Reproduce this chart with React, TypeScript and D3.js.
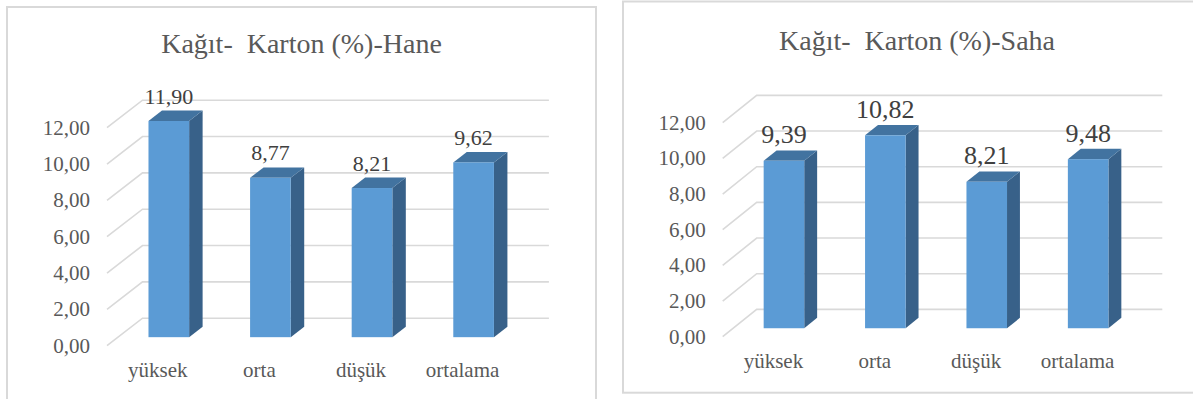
import React from "react";
import * as d3 from "d3";

// Categories and series values
const categories = ["yüksek", "orta", "düşük", "ortalama"];
const haneValues = [11.9, 8.77, 8.21, 9.62];
const sahaValues = [9.39, 10.82, 8.21, 9.48];
const yTicks = [0, 2, 4, 6, 8, 10, 12];
const titles = ["Kağıt-  Karton (%)-Hane", "Kağıt-  Karton (%)-Saha"];

const FONT = "Liberation Serif, Tinos, Times New Roman, Times, DejaVu Serif, serif";
const FRONT = "#5b9bd5";
const TOP = "#4273a0";
const SIDE = "#386189";
const GRID = "#d9d9d9";
const TEXT = "#595959";
const LABEL = "#404040";

const fmt = (v: number) => d3.format(".2f")(v).replace(".", ",");

interface PanelLayout {
  frame: [number, number, number, number];
  titleX: number;
  titleY: number;
  x0: number;
  x1: number;
  yBottom: number;
  yTop: number;
  dx: number;
  dy: number;
  dataFs: number;
}

const layouts: PanelLayout[] = [
  {
    frame: [7, 7, 589, 410],
    titleX: 301.5,
    titleY: 53,
    x0: 107,
    x1: 513.4,
    yBottom: 345.7,
    yTop: 127.7,
    dx: 35.5,
    dy: -27.5,
    dataFs: 22,
  },
  {
    frame: [623, 1.5, 620, 391.2],
    titleX: 917,
    titleY: 50,
    x0: 722.7,
    x1: 1128.3,
    yBottom: 336.7,
    yTop: 122.7,
    dx: 34,
    dy: -27.3,
    dataFs: 26,
  },
];

// bar occupies this slice of the depth axis (0 = front, 1 = back wall)
const DEPTH_A = 0.31;
const DEPTH_B = 0.69;
const BAR_FRAC = 0.4;

function Panel({ values, title, L }: { values: number[]; title: string; L: PanelLayout }) {
  const x = d3.scaleBand<string>().domain(categories).range([L.x0, L.x1]).padding(0);
  const y = d3.scaleLinear().domain([0, 12]).range([L.yBottom, L.yTop]);
  const bw = x.bandwidth();
  const [fx, fy, fw, fh] = L.frame;
  const gridPath = d3.line();
  const txt = (size: number, color: string) => ({
    fontFamily: FONT,
    fontSize: size,
    fill: color,
  });

  return (
    <g>
      <rect x={fx} y={fy} width={fw} height={fh} fill="#fff" stroke={GRID} strokeWidth={2} />
      <text
        x={L.titleX}
        y={L.titleY}
        textAnchor="middle"
        style={{ ...txt(28, TEXT), whiteSpace: "pre" }}
      >
        {title}
      </text>

      {yTicks.map((t) => {
        const yy = y(t);
        const pts: [number, number][] = [
          [L.x0, yy],
          [L.x0 + L.dx, yy + L.dy],
          [L.x1 + L.dx, yy + L.dy],
        ];
        return (
          <g key={t}>
            <path d={gridPath(pts) || ""} fill="none" stroke={GRID} strokeWidth={1.6} />
            <text x={L.x0 - 17} y={yy + 7} textAnchor="end" style={txt(21, TEXT)}>
              {fmt(t)}
            </text>
          </g>
        );
      })}

      {categories.map((c, i) => {
        const v = values[i];
        const cx = (x(c) as number) + bw / 2;
        const w = bw * BAR_FRAC;
        const left = cx - w / 2 + DEPTH_A * L.dx;
        const right = left + w;
        const yFrontTop = y(v) + DEPTH_A * L.dy;
        const yFrontBot = y(0) + DEPTH_A * L.dy;
        const ddx = (DEPTH_B - DEPTH_A) * L.dx;
        const ddy = (DEPTH_B - DEPTH_A) * L.dy;
        const side: [number, number][] = [
          [right, yFrontTop],
          [right + ddx, yFrontTop + ddy],
          [right + ddx, yFrontBot + ddy],
          [right, yFrontBot],
        ];
        const top: [number, number][] = [
          [left, yFrontTop],
          [left + ddx, yFrontTop + ddy],
          [right + ddx, yFrontTop + ddy],
          [right, yFrontTop],
        ];
        const poly = (p: [number, number][]) => p.map((q) => q.join(",")).join(" ");
        return (
          <g key={c}>
            <polygon points={poly(side)} fill={SIDE} />
            <polygon points={poly(top)} fill={TOP} />
            <rect x={left} y={yFrontTop} width={w} height={yFrontBot - yFrontTop} fill={FRONT} />
            <text
              x={left + w / 2}
              y={yFrontTop + ddy - 7}
              textAnchor="middle"
              style={txt(L.dataFs, LABEL)}
            >
              {fmt(v)}
            </text>
            <text x={cx} y={y(0) + 31} textAnchor="middle" style={txt(21, TEXT)}>
              {c}
            </text>
          </g>
        );
      })}
    </g>
  );
}

export default function App() {
  return (
    <svg
      width={1193}
      height={399}
      style={{ position: "absolute", left: 0, top: 0, background: "#fff" }}
    >
      <Panel values={haneValues} title={titles[0]} L={layouts[0]} />
      <Panel values={sahaValues} title={titles[1]} L={layouts[1]} />
    </svg>
  );
}
